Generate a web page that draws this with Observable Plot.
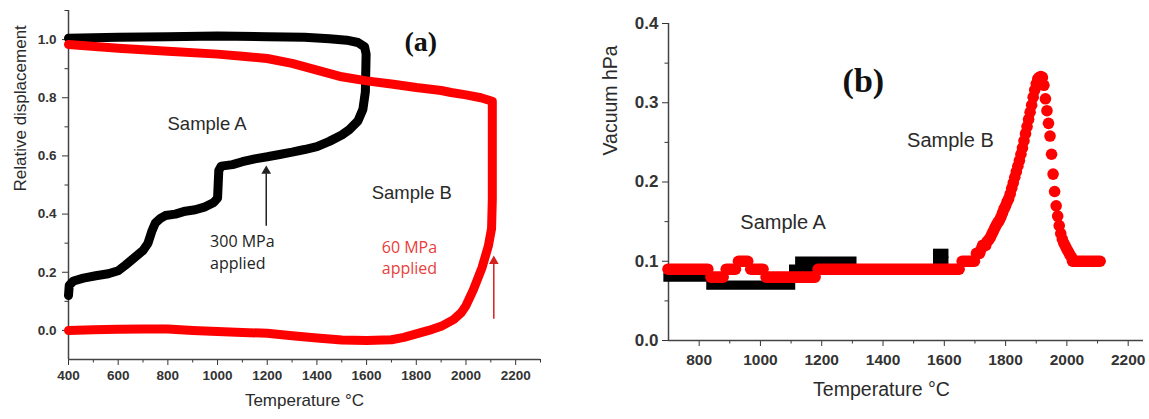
<!DOCTYPE html>
<html><head><meta charset="utf-8">
<script src="https://cdn.jsdelivr.net/npm/d3@7"></script>
<script src="https://cdn.jsdelivr.net/npm/@observablehq/plot@0.6"></script>
<style>
body{margin:0;background:#fff;}
#wrap{display:flex;width:1149px;height:419px;overflow:hidden;}
#wrap svg{overflow:visible;}
#wrap g[aria-label*="tick label"] text{font-weight:700 !important;}
</style></head><body><div id="wrap"></div>
<script>
// ---------- Panel (a): relative displacement ----------
const tempDomainA = [400, 2300];
const dispDomain = [-0.1, 1.1];
const tempTicksA = [400, 600, 800, 1000, 1200, 1400, 1600, 1800, 2000, 2200];
const tempMinorA = [500, 700, 900, 1100, 1300, 1500, 1700, 1900, 2100, 2300];
const dispTicks = [0.0, 0.2, 0.4, 0.6, 0.8, 1.0];
const dispMinor = [0.1, 0.3, 0.5, 0.7, 0.9, 1.1];

// Sample A (black, 300 MPa)
const dispTempA = [400, 403, 420, 460, 510, 560, 600, 630, 665, 700, 720, 735, 750, 770, 790, 830, 870, 910, 950, 985, 1000, 1005, 1015, 1060, 1100, 1150, 1200, 1250, 1300, 1350, 1400, 1450, 1500, 1530, 1565, 1585, 1595, 1598, 1592, 1565, 1520, 1450, 1350, 1200, 1000, 800, 600, 400];
const dispA     = [0.12, 0.155, 0.17, 0.18, 0.188, 0.195, 0.205, 0.225, 0.25, 0.275, 0.30, 0.34, 0.37, 0.385, 0.395, 0.40, 0.41, 0.415, 0.425, 0.44, 0.455, 0.55, 0.565, 0.57, 0.58, 0.59, 0.597, 0.605, 0.613, 0.622, 0.632, 0.65, 0.672, 0.69, 0.72, 0.76, 0.82, 0.95, 0.975, 0.99, 0.998, 1.003, 1.008, 1.01, 1.012, 1.01, 1.008, 1.005];

// Sample B (red, 60 MPa)
const dispTempB = [400, 500, 600, 700, 800, 900, 1000, 1100, 1200, 1300, 1400, 1500, 1600, 1700, 1750, 1800, 1850, 1900, 1950, 1980, 2000, 2030, 2065, 2090, 2103, 2106, 2106, 2060, 2000, 1940, 1900, 1800, 1700, 1600, 1500, 1400, 1300, 1200, 1100, 1000, 800, 600, 400];
const dispB     = [0.0, 0.002, 0.004, 0.005, 0.005, 0.0, -0.004, -0.007, -0.01, -0.018, -0.026, -0.033, -0.035, -0.032, -0.024, -0.012, 0.0, 0.014, 0.037, 0.06, 0.085, 0.14, 0.217, 0.29, 0.35, 0.45, 0.788, 0.80, 0.81, 0.818, 0.825, 0.835, 0.847, 0.858, 0.872, 0.895, 0.918, 0.935, 0.943, 0.95, 0.96, 0.97, 0.983];

// ---------- Panel (b): vacuum ----------
const tempDomainB = [700, 2250];
const vacDomain = [0, 0.4];
const tempTicksB = [800, 1000, 1200, 1400, 1600, 1800, 2000, 2200];
const tempMinorB = [900, 1100, 1300, 1500, 1700, 1900, 2100];
const vacTicks = [0.0, 0.1, 0.2, 0.3, 0.4];
const vacMinor = [0.05, 0.15, 0.25, 0.35];

// Sample A vacuum: flat step runs (start, end, value)
const vacAStart = [700, 840, 1110, 1130, 1310, 1580, 1580];
const vacAEnd   = [830, 1100, 1190, 1300, 1570, 1600, 1600];
const vacA      = [0.08, 0.07, 0.09, 0.10, 0.09, 0.10, 0.11];

// Sample B vacuum: flat step runs
const vacBStart = [700, 840, 890, 930, 970, 1020, 1190, 1660, 2020];
const vacBEnd   = [830, 880, 920, 960, 1010, 1180, 1650, 1700, 2110];
const vacB      = [0.09, 0.08, 0.09, 0.10, 0.09, 0.08, 0.09, 0.10, 0.10];

// Sample B vacuum: outgassing peak points
const vacPeakTemp = [1705, 1710, 1715, 1720, 1725, 1730, 1735, 1740, 1745, 1750, 1755, 1760, 1765, 1770, 1775, 1780, 1785, 1790, 1795, 1800, 1805, 1810, 1815, 1820, 1825, 1830, 1835, 1840, 1845, 1850, 1855, 1860, 1865, 1870, 1875, 1880, 1885, 1890, 1895, 1900, 1905, 1910, 1915, 1920, 1925, 1930, 1935, 1940, 1945, 1950, 1955, 1960, 1965, 1970, 1975, 1980, 1985, 1990, 1995, 2000, 2005, 2010, 2015];
const vacPeak     = [0.110, 0.110, 0.110, 0.115, 0.120, 0.120, 0.120, 0.125, 0.127, 0.130, 0.134, 0.138, 0.142, 0.146, 0.149, 0.152, 0.156, 0.161, 0.166, 0.170, 0.175, 0.179, 0.185, 0.192, 0.199, 0.206, 0.213, 0.220, 0.227, 0.235, 0.243, 0.252, 0.261, 0.270, 0.279, 0.288, 0.297, 0.307, 0.316, 0.324, 0.330, 0.332, 0.333, 0.332, 0.322, 0.305, 0.290, 0.274, 0.258, 0.235, 0.210, 0.188, 0.170, 0.157, 0.145, 0.135, 0.128, 0.123, 0.119, 0.115, 0.112, 0.108, 0.105];

// ---------- build tables ----------
const lineA = dispTempA.map((t, i) => ({t, v: dispA[i]}));
const lineB = dispTempB.map((t, i) => ({t, v: dispB[i]}));
const stepsA = vacA.map((v, i) => ({t0: vacAStart[i], t1: vacAEnd[i], v}));
const stepsB = vacB.map((v, i) => ({t0: vacBStart[i], t1: vacBEnd[i], v}));
const peakB = vacPeakTemp.map((t, i) => ({t, v: vacPeak[i]}));

const SANS = "Liberation Sans, Arial, Helvetica, sans-serif";
const INK = "#2a2a2a";
const RED = "#ff0000";
const one = [0];
const intFmt = d => String(d);

const plotA = Plot.plot({
  width: 565, height: 419,
  marginLeft: 68, marginRight: 25, marginTop: 10, marginBottom: 60,
  style: {fontFamily: SANS, background: "white", color: INK, overflow: "visible"},
  x: {domain: tempDomainA},
  y: {domain: dispDomain},
  marks: [
    Plot.axisX(tempTicksA, {tickSize: 6, tickPadding: 5, fontSize: 13.5, fontWeight: "bold", tickFormat: intFmt, label: null, color: "#333"}),
    Plot.axisX(tempMinorA, {tickSize: 3.5, tickFormat: () => "", label: null, color: "#333"}),
    Plot.axisY(dispTicks, {tickSize: 6, tickPadding: 6, fontSize: 13.5, fontWeight: "bold", tickFormat: d3.format(".1f"), label: null, color: "#333"}),
    Plot.axisY(dispMinor, {tickSize: 3.5, tickFormat: () => "", label: null, color: "#333"}),
    Plot.ruleX([tempDomainA[0]], {stroke: "#444", strokeWidth: 1.5}),
    Plot.ruleY([dispDomain[0]], {stroke: "#444", strokeWidth: 1.5}),
    Plot.line(lineA, {x: "t", y: "v", stroke: "#000", strokeWidth: 9, strokeLinejoin: "round", strokeLinecap: "round"}),
    Plot.line(lineB, {x: "t", y: "v", stroke: RED, strokeWidth: 9, strokeLinejoin: "round", strokeLinecap: "round"}),
    // arrows
    Plot.link(one, {x1: 1196, y1: 0.36, x2: 1196, y2: 0.54, stroke: "#222", strokeWidth: 1.5}),
    Plot.dot(one, {x: 1196, y: 0.548, symbol: "triangle", r: 3.6, fill: "#222"}),
    Plot.link(one, {x1: 2112, y1: 0.04, x2: 2112, y2: 0.23, stroke: "#d42020", strokeWidth: 1.5}),
    Plot.dot(one, {x: 2112, y: 0.238, symbol: "triangle", r: 3.6, fill: "#d42020"}),
    // labels
    Plot.text(one, {x: 958, y: 0.71, text: () => "Sample A", fontSize: 18.5, fill: INK}),
    Plot.text(one, {x: 1782, y: 0.473, text: () => "Sample B", fontSize: 18.5, fill: INK}),
    Plot.text(one, {x: 970, y: 0.305, text: () => "300 MPa", textAnchor: "start", fontSize: 16, fontFamily: "Open Sans, sans-serif", fill: "#222"}),
    Plot.text(one, {x: 970, y: 0.23, text: () => "applied", textAnchor: "start", fontSize: 16, fontFamily: "Open Sans, sans-serif", fill: "#222"}),
    Plot.text(one, {x: 1661, y: 0.285, text: () => "60 MPa", textAnchor: "start", fontSize: 16, fontFamily: "Open Sans, sans-serif", fill: "#e8403c"}),
    Plot.text(one, {x: 1661, y: 0.213, text: () => "applied", textAnchor: "start", fontSize: 16, fontFamily: "Open Sans, sans-serif", fill: "#e8403c"}),
    Plot.text(one, {x: 1818, y: 0.99, text: () => "(a)", fontSize: 28, fontWeight: "bold", fontFamily: "Liberation Serif, Times New Roman, serif", fill: "#111"}),
    // axis titles
    Plot.text(one, {frameAnchor: "bottom", dy: 46, text: () => "Temperature °C", fontSize: 17, fill: INK}),
    Plot.text(one, {frameAnchor: "left", dx: -48, dy: 6.5, rotate: -90, text: () => "Relative displacement", fontSize: 17, fill: INK})
  ]
});

const plotB = Plot.plot({
  width: 584, height: 419,
  marginLeft: 103, marginRight: 6, marginTop: 23, marginBottom: 79,
  style: {fontFamily: SANS, background: "white", color: INK, overflow: "visible"},
  x: {domain: tempDomainB},
  y: {domain: vacDomain},
  marks: [
    Plot.axisX(tempTicksB, {tickSize: 6, tickPadding: 7, fontSize: 15.5, fontWeight: "bold", tickFormat: intFmt, label: null, color: "#333"}),
    Plot.axisX(tempMinorB, {tickSize: 3.5, tickFormat: () => "", label: null, color: "#333"}),
    Plot.axisY(vacTicks, {tickSize: 6, tickPadding: 4, fontSize: 17, fontWeight: "bold", tickFormat: d3.format(".1f"), label: null, color: "#333"}),
    Plot.axisY(vacMinor, {tickSize: 3.5, tickFormat: () => "", label: null, color: "#333"}),
    Plot.ruleX([tempDomainB[0]], {stroke: "#444", strokeWidth: 1.5}),
    Plot.ruleY([vacDomain[0]], {stroke: "#444", strokeWidth: 1.5}),
    Plot.ruleY(stepsA, {y: "v", x1: "t0", x2: "t1", stroke: "#000", strokeWidth: 9.3, strokeLinecap: "square"}),
    Plot.ruleY(stepsB, {y: "v", x1: "t0", x2: "t1", stroke: RED, strokeWidth: 11.6, strokeLinecap: "round"}),
    Plot.dot(peakB, {x: "t", y: "v", r: 5.8, fill: RED}),
    Plot.text(one, {x: 1336, y: 0.327, text: () => "(b)", fontSize: 34, fontWeight: "bold", fontFamily: "Liberation Serif, Times New Roman, serif", fill: "#111"}),
    Plot.text(one, {x: 1620, y: 0.252, text: () => "Sample B", fontSize: 20, fill: INK}),
    Plot.text(one, {x: 1074, y: 0.149, text: () => "Sample A", fontSize: 20, fill: INK}),
    Plot.text(one, {frameAnchor: "bottom", dx: -24.5, dy: 55, text: () => "Temperature °C", fontSize: 19.5, fill: INK}),
    Plot.text(one, {frameAnchor: "left", dx: -58, dy: -26.5, rotate: -90, text: () => "Vacuum hPa", fontSize: 19.5, fill: INK})
  ]
});

document.getElementById("wrap").append(plotA, plotB);
</script></body></html>
